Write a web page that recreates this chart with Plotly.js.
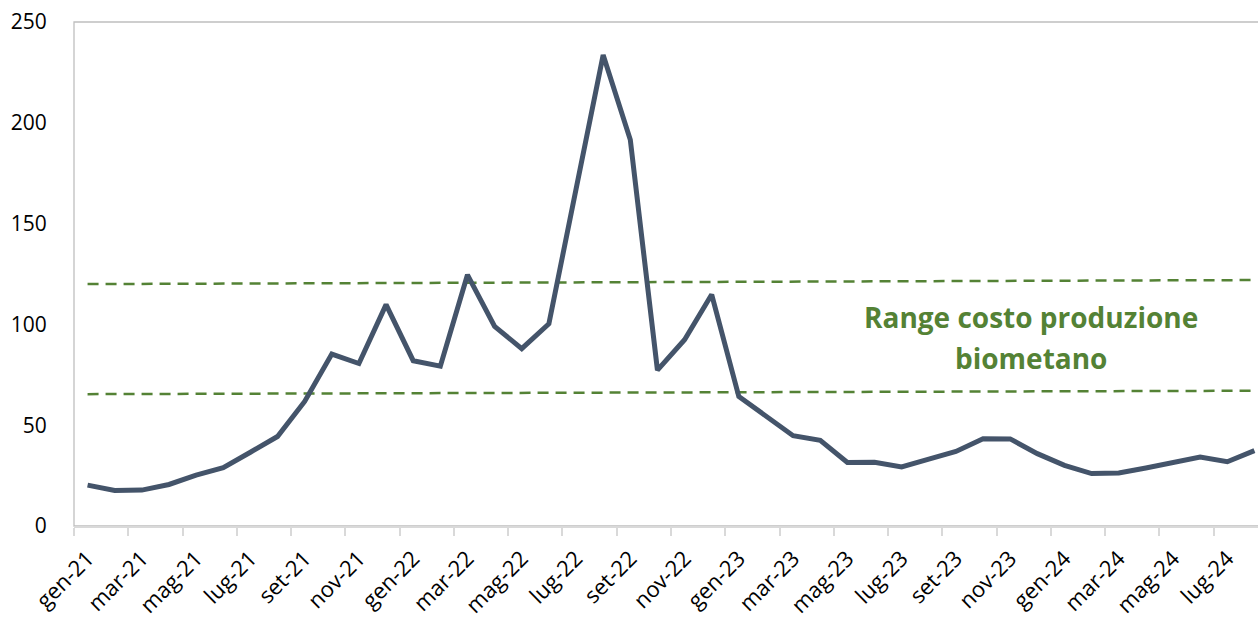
<!DOCTYPE html>
<html>
<head>
<meta charset="utf-8">
<script src="https://cdn.plot.ly/plotly-3.0.1.min.js"></script>
<style>
  html, body { margin: 0; padding: 0; background: #ffffff; overflow: hidden; }
  #chart { width: 1270px; height: 618px; }
</style>
</head>
<body>
<div id="chart"></div>
<script>
// Mesi (gen-21 .. ago-24)
const mesi = [
  "gen-21","feb-21","mar-21","apr-21","mag-21","giu-21","lug-21","ago-21","set-21","ott-21","nov-21","dic-21",
  "gen-22","feb-22","mar-22","apr-22","mag-22","giu-22","lug-22","ago-22","set-22","ott-22","nov-22","dic-22",
  "gen-23","feb-23","mar-23","apr-23","mag-23","giu-23","lug-23","ago-23","set-23","ott-23","nov-23","dic-23",
  "gen-24","feb-24","mar-24","apr-24","mag-24","giu-24","lug-24","ago-24"
];

// Prezzo mensile del gas
const prezzo = [
  20.3, 17.6, 17.8, 20.6, 25.2, 28.9, 36.6, 44.4, 61.8, 85.3, 80.6, 109.8,
  82.0, 79.3, 124.6, 99.0, 88.0, 100.3, 167.0, 233.6, 191.6, 77.3, 92.4, 114.8,
  64.2, 54.4, 44.8, 42.5, 31.5, 31.6, 29.3, 33.2, 37.0, 43.3, 43.2, 35.9,
  30.1, 26.0, 26.3, 28.8, 31.3, 34.2, 31.9, 37.4
];

// Estremi del range di costo di produzione del biometano
const rangeMesi = ["gen-21", "ago-24"];
const rangeAlto = [120.0, 122.0];
const rangeBasso = [65.4, 67.1];

// Etichetta del range, una riga per voce
const etichettaRighe = ["Range costo produzione", "biometano"];

const verde = "#548235";
const blu = "#44546A";
const fontBase = "Open Sans, DejaVu Sans, sans-serif";

const traces = [
  {
    x: rangeMesi, y: rangeAlto, type: "scatter", mode: "lines",
    line: { color: verde, width: 2.5, dash: "11px,7px" },
    hoverinfo: "skip", showlegend: false
  },
  {
    x: rangeMesi, y: rangeBasso, type: "scatter", mode: "lines",
    line: { color: verde, width: 2.5, dash: "11px,7px" },
    hoverinfo: "skip", showlegend: false
  },
  {
    x: mesi, y: prezzo, type: "scatter", mode: "lines",
    line: { color: blu, width: 5 },
    showlegend: false
  }
];

const layout = {
  width: 1270,
  height: 618,
  margin: { l: 74, r: 2, t: 22, b: 92 },
  paper_bgcolor: "#ffffff",
  plot_bgcolor: "#ffffff",
  font: { family: fontBase, color: "#000000" },
  xaxis: {
    type: "category",
    categoryorder: "array",
    categoryarray: mesi,
    range: [-0.5, mesi.length - 0.5],
    tickmode: "linear",
    tick0: 0,
    dtick: 2,
    tickson: "boundaries",
    ticks: "outside",
    ticklen: 8,
    tickwidth: 2,
    tickcolor: "#d9d9d9",
    tickangle: -45,
    ticklabelstandoff: 9,
    tickfont: { size: 22, color: "#000000" },
    showline: true,
    linecolor: "#d9d9d9",
    linewidth: 2,
    showgrid: false,
    zeroline: false,
    fixedrange: true
  },
  yaxis: {
    range: [0, 250],
    tickvals: [0, 50, 100, 150, 200, 250],
    ticks: "outside",
    ticklen: 22,
    tickcolor: "rgba(0,0,0,0)",
    tickfont: { size: 21, color: "#000000" },
    showline: false,
    showgrid: false,
    zeroline: false,
    fixedrange: true
  },
  shapes: [
    {
      type: "rect", xref: "paper", yref: "paper",
      x0: 0, x1: 1, y0: 0, y1: 1,
      line: { color: "#bfbfbf", width: 1.3 },
      layer: "below"
    }
  ],
  annotations: [
    {
      xref: "paper", yref: "y",
      x: 0.8017, y: 103.7,
      text: etichettaRighe[0],
      showarrow: false,
      xanchor: "center", yanchor: "middle",
      font: { size: 28, color: verde, family: fontBase, weight: "bold" }
    },
    {
      xref: "paper", yref: "y",
      x: 0.8017, y: 83.4,
      text: etichettaRighe[1],
      showarrow: false,
      xanchor: "center", yanchor: "middle",
      font: { size: 28, color: verde, family: fontBase, weight: "bold" }
    }
  ]
};

Plotly.newPlot("chart", traces, layout, { displayModeBar: false, staticPlot: true });
</script>
</body>
</html>
